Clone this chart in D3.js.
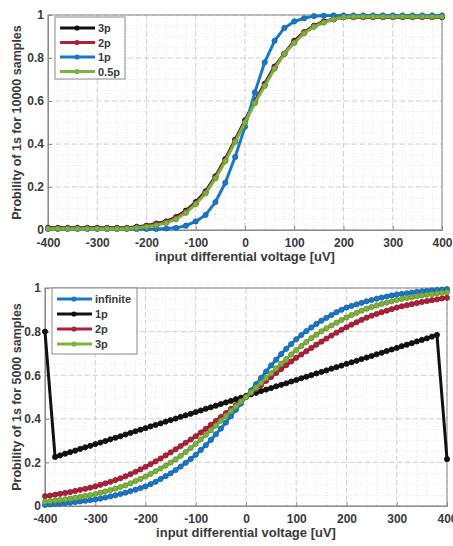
<!DOCTYPE html>
<html>
<head>
<meta charset="utf-8">
<script src="https://cdn.jsdelivr.net/npm/d3@7"></script>
<style>
  body { margin: 0; background: #fff; }
  svg text { font-family: "Liberation Sans", Arial, sans-serif; font-weight: bold; fill: #3a3a3a; }
</style>
</head>
<body>
<svg id="chart" width="453" height="546"></svg>
<script>
// ---------- data: top panel (10000 samples), x step 20 uV ----------
var topX = [-400,-380,-360,-340,-320,-300,-280,-260,-240,-220,-200,-180,-160,-140,-120,-100,-80,-60,-40,-20,
            0,20,40,60,80,100,120,140,160,180,200,220,240,260,280,300,320,340,360,380,400]
var top3p = [0.010,0.010,0.010,0.010,0.010,0.010,0.010,0.010,0.010,0.015,0.020,0.030,0.040,0.060,0.090,0.130,0.180,0.250,0.330,0.420,
             0.510,0.600,0.680,0.760,0.820,0.880,0.920,0.950,0.970,0.980,0.990,0.990,0.990,0.990,0.990,0.990,0.990,0.990,0.990,0.990,0.990]
var top2p = [0.008,0.008,0.008,0.008,0.008,0.008,0.008,0.008,0.009,0.012,0.018,0.027,0.038,0.057,0.086,0.125,0.175,0.245,0.325,0.415,
             0.505,0.595,0.675,0.755,0.820,0.875,0.918,0.948,0.968,0.980,0.990,0.992,0.992,0.992,0.992,0.992,0.992,0.992,0.992,0.992,0.992]
var top1p = [0.005,0.005,0.005,0.005,0.005,0.005,0.005,0.005,0.005,0.005,0.005,0.005,0.007,0.010,0.020,0.040,0.070,0.130,0.220,0.340,
             0.480,0.640,0.780,0.880,0.940,0.970,0.985,0.995,0.997,0.998,0.998,0.998,0.998,0.998,0.998,0.998,0.998,0.998,0.998,0.998,0.998]
var top05p = [0.006,0.006,0.006,0.006,0.006,0.006,0.006,0.006,0.007,0.010,0.015,0.022,0.033,0.050,0.080,0.120,0.170,0.240,0.320,0.410,
              0.500,0.590,0.670,0.750,0.820,0.870,0.915,0.945,0.965,0.980,0.990,0.992,0.992,0.992,0.992,0.992,0.992,0.992,0.992,0.992,0.992]

// ---------- data: bottom panel (5000 samples), x step 10 uV ----------
var botX = [-400,-390,-380,-370,-360,-350,-340,-330,-320,-310,-300,-290,-280,-270,-260,-250,-240,-230,-220,-210,
            -200,-190,-180,-170,-160,-150,-140,-130,-120,-110,-100,-90,-80,-70,-60,-50,-40,-30,-20,-10,
            0,10,20,30,40,50,60,70,80,90,100,110,120,130,140,150,160,170,180,190,
            200,210,220,230,240,250,260,270,280,290,300,310,320,330,340,350,360,370,380,390,400]
var botInf = [0.005,0.007,0.009,0.011,0.013,0.015,0.018,0.021,0.024,0.027,0.030,0.034,0.039,0.044,0.049,0.055,0.061,0.068,0.075,0.082,
              0.090,0.100,0.111,0.124,0.137,0.150,0.165,0.181,0.198,0.216,0.235,0.257,0.279,0.303,0.329,0.355,0.383,0.412,0.441,0.470,
              0.500,0.530,0.559,0.588,0.617,0.645,0.671,0.697,0.721,0.743,0.765,0.784,0.802,0.819,0.835,0.850,0.863,0.876,0.889,0.900,
              0.910,0.918,0.925,0.932,0.939,0.945,0.951,0.956,0.961,0.966,0.970,0.973,0.976,0.979,0.982,0.985,0.987,0.989,0.991,0.993,0.995]
var bot2p = [0.045,0.048,0.052,0.056,0.060,0.064,0.069,0.074,0.079,0.084,0.090,0.097,0.104,0.111,0.119,0.127,0.136,0.146,0.157,0.168,
             0.180,0.192,0.205,0.218,0.232,0.246,0.260,0.275,0.290,0.305,0.320,0.337,0.354,0.372,0.390,0.408,0.426,0.445,0.463,0.482,
             0.500,0.518,0.537,0.555,0.574,0.592,0.610,0.628,0.646,0.663,0.680,0.695,0.710,0.725,0.740,0.754,0.768,0.782,0.795,0.808,
             0.820,0.832,0.843,0.854,0.864,0.873,0.881,0.889,0.896,0.903,0.910,0.916,0.921,0.926,0.931,0.936,0.940,0.944,0.948,0.952,0.955]
var bot3p = [0.020,0.022,0.025,0.028,0.031,0.034,0.038,0.042,0.046,0.050,0.055,0.061,0.067,0.073,0.080,0.087,0.095,0.104,0.114,0.124,
             0.135,0.147,0.159,0.172,0.185,0.199,0.214,0.230,0.248,0.266,0.285,0.305,0.326,0.347,0.369,0.391,0.413,0.435,0.457,0.479,
             0.500,0.521,0.543,0.565,0.587,0.609,0.631,0.653,0.674,0.695,0.715,0.734,0.752,0.770,0.786,0.801,0.815,0.828,0.841,0.853,
             0.865,0.876,0.886,0.896,0.905,0.913,0.920,0.927,0.933,0.939,0.945,0.950,0.954,0.958,0.962,0.966,0.969,0.972,0.975,0.978,0.980]
// 1p series has its own x points (jumps at both ends)
var bot1pX = [-400,-380,-370,-360,-350,-340,-330,-320,-310,-300,-290,-280,-270,-260,-250,-240,-230,-220,-210,
              -200,-190,-180,-170,-160,-150,-140,-130,-120,-110,-100,-90,-80,-70,-60,-50,-40,-30,-20,-10,
              0,10,20,30,40,50,60,70,80,90,100,110,120,130,140,150,160,170,180,190,
              200,210,220,230,240,250,260,270,280,290,300,310,320,330,340,350,360,370,380,400]
var bot1p = [0.800,0.225,0.232,0.240,0.247,0.254,0.262,0.269,0.276,0.284,0.291,0.298,0.306,0.313,0.320,0.328,0.335,0.343,0.350,
             0.357,0.365,0.372,0.379,0.387,0.394,0.401,0.409,0.416,0.423,0.431,0.438,0.446,0.453,0.460,0.468,0.475,0.482,0.490,0.497,
             0.505,0.512,0.519,0.527,0.534,0.541,0.549,0.556,0.563,0.571,0.578,0.586,0.593,0.600,0.608,0.615,0.622,0.630,0.637,0.644,
             0.652,0.659,0.666,0.674,0.681,0.688,0.696,0.703,0.711,0.718,0.725,0.733,0.740,0.747,0.755,0.762,0.769,0.777,0.785,0.215]

var xTicks = [-400,-300,-200,-100,0,100,200,300,400]
var yTicks = [0,0.2,0.4,0.6,0.8,1]

var cBlue = '#1a78c9', cRed = '#b0203a', cGreen = '#7cb33c', cBlack = '#111'

var svg = d3.select('svg#chart')

function drawPanel(p) {
  var x = d3.scaleLinear().domain([-400, 400]).range([p.left, p.right])
  var y = d3.scaleLinear().domain([0, 1]).range([p.bottom, p.top])
  var g = svg.append('g')

  // minor grid
  var minorX = d3.range(-400, 401, 20), minorY = d3.range(0, 1.0001, 0.05)
  g.selectAll('.mx').data(minorX).enter().append('line')
    .attr('x1', d => x(d)).attr('x2', d => x(d)).attr('y1', p.top).attr('y2', p.bottom)
    .attr('stroke', '#e6e6e6').attr('stroke-width', 1).attr('stroke-dasharray', '1,2')
  g.selectAll('.my').data(minorY).enter().append('line')
    .attr('y1', d => y(d)).attr('y2', d => y(d)).attr('x1', p.left).attr('x2', p.right)
    .attr('stroke', '#e6e6e6').attr('stroke-width', 1).attr('stroke-dasharray', '1,2')
  // major grid
  g.selectAll('.gx').data(xTicks).enter().append('line')
    .attr('x1', d => x(d)).attr('x2', d => x(d)).attr('y1', p.top).attr('y2', p.bottom)
    .attr('stroke', '#d2d2d2').attr('stroke-width', 1).attr('stroke-dasharray', '5,3')
  g.selectAll('.gy').data(yTicks).enter().append('line')
    .attr('y1', d => y(d)).attr('y2', d => y(d)).attr('x1', p.left).attr('x2', p.right)
    .attr('stroke', '#d2d2d2').attr('stroke-width', 1).attr('stroke-dasharray', '5,3')

  // axes (plain hyphen for minus, as in the figure)
  var xAxis = d3.axisBottom(x).tickValues(xTicks).tickSize(-4).tickPadding(8)
    .tickFormat(d => String(d))
  var yAxis = d3.axisLeft(y).tickValues(yTicks).tickSize(-4).tickPadding(4).tickFormat(d => String(d))
  g.append('g').attr('class', 'x axis').attr('transform', 'translate(0,' + p.bottom + ')').call(xAxis)
  g.append('g').attr('class', 'y axis').attr('transform', 'translate(' + p.left + ',0)').call(yAxis)
  g.selectAll('.axis path, .axis line').attr('stroke', '#8a8a8a')
  g.selectAll('.axis text').attr('font-size', 12).style('fill', '#3a3a3a')
  // box
  g.append('rect').attr('x', p.left).attr('y', p.top)
    .attr('width', p.right - p.left).attr('height', p.bottom - p.top)
    .attr('fill', 'none').attr('stroke', '#8a8a8a')

  // series
  var line = d3.line().x(d => x(d[0])).y(d => y(d[1]))
  p.series.forEach(function(s) {
    var pts = s.x.map((v, i) => [v, s.y[i]])
    g.append('path').datum(pts).attr('d', line)
      .attr('fill', 'none').attr('stroke', s.color).attr('stroke-width', 3)
      .attr('stroke-linejoin', 'round')
    g.selectAll(null).data(pts).enter().append('circle')
      .attr('cx', d => x(d[0])).attr('cy', d => y(d[1])).attr('r', 2.6)
      .attr('fill', s.color).attr('stroke', d3.color(s.color).darker(0.6)).attr('stroke-width', 0.8)
  })

  // legend
  var lg = p.legend
  g.append('rect').attr('x', lg.x).attr('y', lg.y).attr('width', lg.w).attr('height', lg.h)
    .attr('fill', '#fff').attr('stroke', '#8a8a8a')
  p.series.forEach(function(s, i) {
    var ly = lg.y + 11 + i * lg.step
    g.append('line').attr('x1', lg.x + 5).attr('x2', lg.x + 40).attr('y1', ly).attr('y2', ly)
      .attr('stroke', s.color).attr('stroke-width', 3)
    g.append('circle').attr('cx', lg.x + 22).attr('cy', ly).attr('r', 2.6).attr('fill', s.color)
    g.append('text').attr('x', lg.x + 43).attr('y', ly + 4).attr('font-size', 11).text(s.name)
  })

  // axis titles
  svg.append('text').attr('x', (p.left + p.right) / 2).attr('y', p.bottom + 31)
    .attr('text-anchor', 'middle').attr('font-size', 13).text('input differential voltage [uV]')
  var cy = (p.top + p.bottom) / 2
  svg.append('text').attr('x', 17).attr('y', cy).attr('text-anchor', 'middle')
    .attr('font-size', 12.5).attr('transform', 'rotate(-90 17 ' + cy + ')')
    .attr('dy', '0.35em').text(p.ylabel)
}

drawPanel({
  left: 48, right: 442, top: 15, bottom: 230,
  ylabel: 'Probility of 1s for 10000 samples',
  legend: {x: 55, y: 17, w: 70, h: 62, step: 14.5},
  series: [
    {name: '3p', x: topX, y: top3p, color: cBlack},
    {name: '2p', x: topX, y: top2p, color: cRed},
    {name: '1p', x: topX, y: top1p, color: cBlue},
    {name: '0.5p', x: topX, y: top05p, color: cGreen}
  ]
})

drawPanel({
  left: 45, right: 447, top: 288, bottom: 506,
  ylabel: 'Probility of 1s for 5000 samples',
  legend: {x: 52, y: 288, w: 85, h: 66, step: 15},
  series: [
    {name: 'infinite', x: botX, y: botInf, color: cBlue},
    {name: '1p', x: bot1pX, y: bot1p, color: cBlack},
    {name: '2p', x: botX, y: bot2p, color: cRed},
    {name: '3p', x: botX, y: bot3p, color: cGreen}
  ]
})
</script>
</body>
</html>
